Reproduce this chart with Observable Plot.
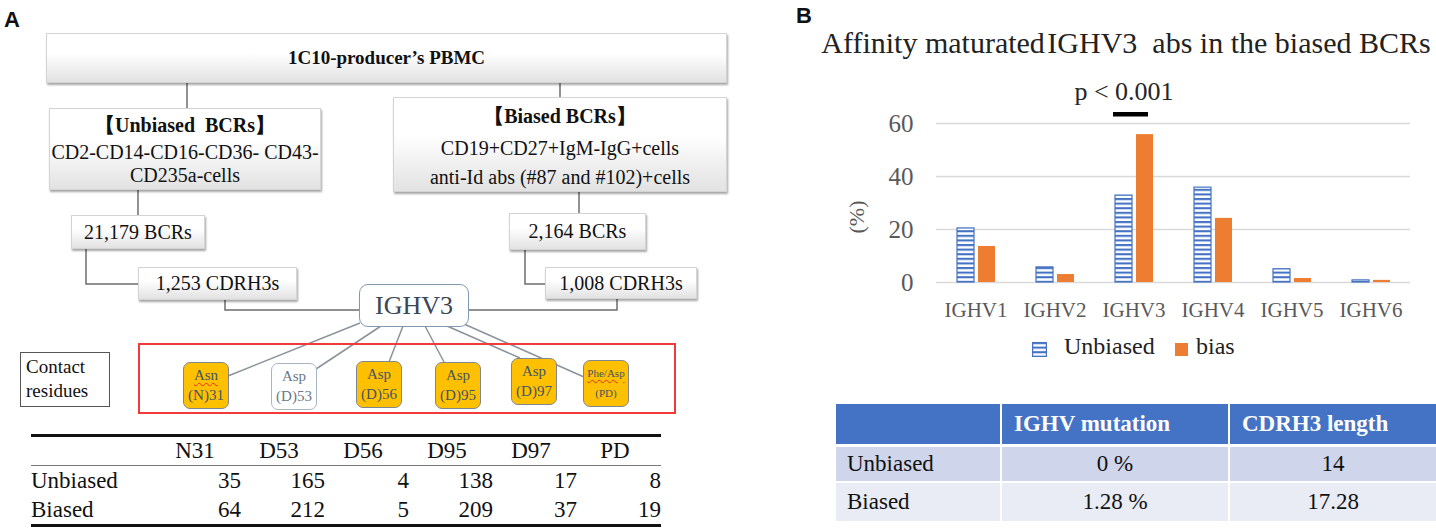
<!DOCTYPE html>
<html><head><meta charset="utf-8">
<script src="https://cdn.jsdelivr.net/npm/d3@7"></script>
<script src="https://cdn.jsdelivr.net/npm/@observablehq/plot@0.6"></script>
<style>
body{margin:0;width:1436px;height:528px;position:relative;background:#fff;font-family:"Liberation Serif","Times New Roman",serif;overflow:hidden;color:#111}
.abs{position:absolute}
.box{position:absolute;box-sizing:border-box;background:linear-gradient(#ffffff 0%,#ffffff 40%,#e2e2e2 100%);border:1px solid #d4d4d4;box-shadow:1px 2px 2px rgba(0,0,0,0.35);display:flex;flex-direction:column;align-items:center;justify-content:center;font-size:20px;line-height:1.15;white-space:nowrap}
.res{position:absolute;box-sizing:border-box;border:1.5px solid #7f8790;border-radius:7px;background:#FFC000;display:flex;flex-direction:column;align-items:center;justify-content:center;font-size:15px;line-height:1.3;color:#44546A}
.wavy{text-decoration:underline wavy #e03030;text-decoration-thickness:1px;text-underline-offset:2px}
table{border-collapse:collapse}
</style></head>
<body>
<script>
// ---------- data ----------
const genes = ["IGHV1","IGHV2","IGHV3","IGHV4","IGHV5","IGHV6"];
const unbiasedPct = [20.4, 5.7, 32.8, 35.8, 5.0, 0.8];
const biasPct = [13.6, 3.0, 55.8, 24.2, 1.5, 0.8];
const seriesNames = ["Unbiased","bias"];
const yTicks = [0,20,40,60];
const sigLabels = [{gene:"IGHV3", label:"p < 0.001"}];

const residueCols = ["N31","D53","D56","D95","D97","PD"];
const residueTop = ["Asn","Asp","Asp","Asp","Asp","Phe/Asp"];
const residueBottom = ["(N)31","(D)53","(D)56","(D)95","(D)97","(PD)"];
const residueHighlighted = [true,false,true,true,true,true];
const countRows = ["Unbiased","Biased"];
const unbiasedCounts = [35,165,4,138,17,8];
const biasedCounts = [64,212,5,209,37,19];

const tableBHeader = ["", "IGHV mutation", "CDRH3 length"];
const tableBRows = ["Unbiased","Biased"];
const ighvMutation = ["0 %","1.28 %"];
const cdrh3Length = ["14","17.28"];

const flowTop = "1C10-producer\u2019s PBMC";
const unbiasedLines = ["\u3010Unbiased\u00a0\u00a0BCRs\u3011","CD2-CD14-CD16-CD36- CD43-","CD235a-cells"];
const biasedLines = ["\u3010Biased BCRs\u3011","CD19+CD27+IgM-IgG+cells","anti-Id abs (#87 and #102)+cells"];
const bcrCounts = ["21,179 BCRs","2,164 BCRs"];
const cdrCounts = ["1,253 CDRH3s","1,008 CDRH3s"];

// ---------- helpers ----------
function el(tag, cls, style, html){const e=document.createElement(tag); if(cls) e.className=cls; if(style) e.style.cssText=style; if(html!==undefined) e.innerHTML=html; document.body.appendChild(e); return e;}

// ---------- panel labels ----------
el("div","abs","left:4px;top:7px;font:bold 22px 'Liberation Sans',Arial,sans-serif;","A");
el("div","abs","left:796px;top:3px;font:bold 22px 'Liberation Sans',Arial,sans-serif;","B");

// ---------- Panel A connectors (svg overlay) ----------
const ns="http://www.w3.org/2000/svg";
const ov=document.createElementNS(ns,"svg");
ov.setAttribute("width","780");ov.setAttribute("height","528");
ov.style.cssText="position:absolute;left:0;top:0";
document.body.appendChild(ov);
function pl(pts,color,w){const p=document.createElementNS(ns,"polyline");p.setAttribute("points",pts);p.setAttribute("fill","none");p.setAttribute("stroke",color);p.setAttribute("stroke-width",w);ov.appendChild(p);}
const cc="#6e6e6e";
pl("187,83 187,108",cc,1.5);
pl("560,83 560,97",cc,1.5);
pl("138,190 138,215",cc,1.5);
pl("86,249 86,284 138,284",cc,1.5);
pl("225,300 225,310 359,310",cc,1.5);
pl("579,192 579,213",cc,1.5);
pl("525,250 525,284 545,284",cc,1.5);
pl("617,298 617,310 469,310",cc,1.5);
const lc="#8a929c";
pl("360,323 228,376",lc,1.5);
pl("381,326 316,369",lc,1.5);
pl("403,326 389,362",lc,1.5);
pl("425,326 444,362",lc,1.5);
pl("447,326 520,358",lc,1.5);
pl("464,324 584,377",lc,1.5);

// ---------- Panel A boxes ----------
el("div","box","left:46px;top:33px;width:681px;height:50px;font-weight:bold;font-size:19px;", flowTop);
const ub=el("div","box","left:49px;top:108px;width:272px;height:82px;justify-content:flex-start;padding-top:1px;");
ub.innerHTML = `<div style="font-weight:bold;height:31px;line-height:31px">${unbiasedLines[0]}</div><div style="line-height:23px">${unbiasedLines[1]}</div><div style="line-height:23px">${unbiasedLines[2]}</div>`;
const bb=el("div","box","left:393px;top:97px;width:334px;height:95px;justify-content:flex-start;padding-top:1px;");
bb.innerHTML = `<div style="font-weight:bold;height:34px;line-height:34px">${biasedLines[0]}</div><div style="line-height:30px">${biasedLines[1]}</div><div style="line-height:28px">${biasedLines[2]}</div>`;
el("div","box","left:71px;top:215px;width:134px;height:34px;", bcrCounts[0]);
el("div","box","left:509px;top:213px;width:137px;height:37px;", bcrCounts[1]);
el("div","box","left:138px;top:267px;width:159px;height:33px;", cdrCounts[0]);
el("div","box","left:545px;top:267px;width:152px;height:32px;", cdrCounts[1]);
el("div","abs","left:359px;top:284px;width:110px;height:43px;box-sizing:border-box;border:1.5px solid #8497b0;border-radius:9px;background:#fff;display:flex;align-items:center;justify-content:center;font-size:26px;color:#3b4656;","IGHV3");

// red frame + contact residues
el("div","abs","left:138px;top:343px;width:538px;height:71px;box-sizing:border-box;border:2px solid #f23a3a;");
el("div","abs","left:20px;top:352px;width:90px;height:55px;box-sizing:border-box;border:1.2px solid #555;background:#fff;font-size:19px;line-height:24px;padding:2px 0 0 5px;","Contact<br>residues");
const resPos = [[183,362],[271,363],[356,361],[435,362],[511,358],[583,360]];
residueTop.forEach((t,i)=>{
  const small = t.length>3;
  const top = (i===0||i===5) ? `<span class="wavy">${t}</span>` : t;
  const s = `left:${resPos[i][0]}px;top:${resPos[i][1]}px;width:46px;height:47px;`+(residueHighlighted[i]?"":"background:#fff;border-color:#a9b4c2;color:#6a7788;")+(small?"font-size:11px;line-height:1.8;":"");
  el("div","res",s,`<div>${top}</div><div>${residueBottom[i]}</div>`);
});

// ---------- Panel A table ----------
(function(){
  const wrap = el("div","abs","left:31px;top:434px;width:630px;");
  let h = `<table style="width:630px;font-size:23px;border-top:3px solid #111;border-bottom:3px solid #111;table-layout:fixed">`;
  h += `<colgroup><col style="width:126px">${residueCols.map(()=>'<col style="width:84px">').join("")}</colgroup>`;
  h += `<tr style="height:28px;border-bottom:1.5px solid #777"><td></td>${residueCols.map(c=>`<td style="text-align:center;padding:0 8px 0 0;line-height:28px">${c}</td>`).join("")}</tr>`;
  [unbiasedCounts,biasedCounts].forEach((row,r)=>{
    h += `<tr style="height:29px"><td style="padding:0;line-height:29px">${countRows[r]}</td>${row.map(v=>`<td style="text-align:right;padding:0;line-height:29px">${v}</td>`).join("")}</tr>`;
  });
  h += `</table>`;
  wrap.innerHTML = h;
})();

// ---------- Panel B title ----------
el("div","abs","left:816px;top:26px;width:620px;text-align:center;font-size:30px;white-space:nowrap;color:#222;","Affinity maturated\u200aIGHV3&nbsp; abs in the biased BCRs");

// ---------- Panel B bar chart ----------
const data = genes.flatMap((g,i)=>[
  {gene:g, series:seriesNames[0], value:unbiasedPct[i]},
  {gene:g, series:seriesNames[1], value:biasPct[i]}
]);
const chart = Plot.plot({
  width: 592, height: 267,
  marginLeft: 93, marginRight: 20, marginTop: 63, marginBottom: 45,
  style: {fontFamily: "'Liberation Serif', serif", background: "transparent", overflow: "visible"},
  fx: {domain: genes, padding: 0, label: null},
  x: {domain: seriesNames, axis: null, paddingInner: 0.2, paddingOuter: 0.9},
  y: {domain: [0, 60], label: null},
  marks: [
    Plot.ruleY(yTicks, {stroke: "#d9d9d9", strokeWidth: 1.3}),
    Plot.barY(data.filter(d=>d.series===seriesNames[0]), {fx:"gene", x:"series", y:"value", fill:"url(#hatchBlue)", stroke:"#4472C4", strokeWidth:1.2}),
    Plot.barY(data.filter(d=>d.series===seriesNames[1]), {fx:"gene", x:"series", y:"value", fill:"#ED7D31"}),
    Plot.text(sigLabels, {fx:"gene", text:"label", frameAnchor:"top", dy:-42, dx:-10, fontSize:26, fill:"#262626"}),
    Plot.tickY(sigLabels, {fx:"gene", y: 63.5, stroke:"#000", strokeWidth:4.5, insetLeft:19, insetRight:25}),
    Plot.axisFx({anchor:"bottom", tickSize:0, tickPadding:20, fontSize:21, color:"#595959", label:null}),
    Plot.axisY({ticks: yTicks, tickSize:0, tickPadding:23, fontSize:25, color:"#595959", label:null})
  ]
});
chart.style.position="absolute"; chart.style.left="840px"; chart.style.top="60px";
const defs = d3.select(chart).insert("defs", ":first-child");
const pat = defs.append("pattern").attr("id","hatchBlue").attr("patternUnits","userSpaceOnUse").attr("width",8).attr("height",4.6);
pat.append("rect").attr("width",8).attr("height",4.6).attr("fill","#fff");
pat.append("rect").attr("width",8).attr("height",2.1).attr("fill","#4472C4");
document.body.appendChild(chart);

// y label
el("div","abs","left:837px;top:204px;width:40px;text-align:center;font-size:22px;color:#595959;transform:rotate(-90deg);","(%)");

// legend
el("div","abs","left:1032px;top:342px;width:15px;height:15px;",`<svg width="15" height="15"><rect x="0.6" y="0.6" width="13.8" height="13.8" fill="url(#hatchBlue)" stroke="#4472C4" stroke-width="1.2"/></svg>`);
el("div","abs","left:1064px;top:333px;font-size:24px;color:#222;",seriesNames[0]);
el("div","abs","left:1175px;top:343px;width:13px;height:13px;background:#ED7D31;");
el("div","abs","left:1196px;top:333px;font-size:24px;color:#222;",seriesNames[1]);

// ---------- Panel B table ----------
(function(){
  const wrap = el("div","abs","left:836px;top:404px;width:600px;");
  const widths=[165,228,207];
  let h = `<table style="width:600px;table-layout:fixed;font-size:23px">`;
  h += `<colgroup>${widths.map(w=>`<col style="width:${w}px">`).join("")}</colgroup>`;
  h += `<tr style="height:41px;background:#4472C4;color:#fff;font-weight:bold">${tableBHeader.map((t,i)=>`<td style="border-right:${i<2?2:0}px solid #fff;border-bottom:3px solid #fff;padding:0 0 0 ${i?'12px':'0'};text-align:${i?'left':'center'}">${t}</td>`).join("")}</tr>`;
  tableBRows.forEach((r,k)=>{
    const bg = k===0?"#CFD5EA":"#E9EBF5";
    h += `<tr style="height:${k===0?37:39}px;background:${bg}"><td style="border-right:2px solid #fff;border-bottom:${k===0?2:0}px solid #fff;padding-left:11px">${r}</td><td style="border-right:2px solid #fff;border-bottom:${k===0?2:0}px solid #fff;text-align:center">${ighvMutation[k]}</td><td style="border-bottom:${k===0?2:0}px solid #fff;text-align:center">${cdrh3Length[k]}</td></tr>`;
  });
  h += `</table>`;
  wrap.innerHTML = h;
})();
</script>
</body></html>
